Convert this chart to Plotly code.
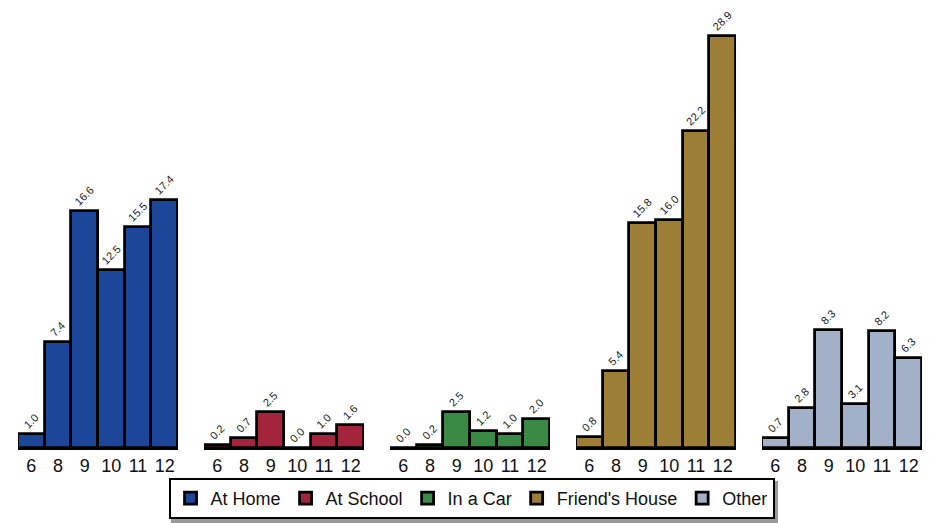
import plotly.graph_objects as go
from plotly.subplots import make_subplots

grades = ["6", "8", "9", "10", "11", "12"]
locations = ["At Home", "At School", "In a Car", "Friend's House", "Other"]
values = {
    "At Home": [1.0, 7.4, 16.6, 12.5, 15.5, 17.4],
    "At School": [0.2, 0.7, 2.5, 0.0, 1.0, 1.6],
    "In a Car": [0.0, 0.2, 2.5, 1.2, 1.0, 2.0],
    "Friend's House": [0.8, 5.4, 15.8, 16.0, 22.2, 28.9],
    "Other": [0.7, 2.8, 8.3, 3.1, 8.2, 6.3],
}
colors = ["#1B4699", "#A4243C", "#3A8A46", "#9C7E36", "#A2B0C8"]

FONT = "Liberation Sans, Arial"
T, B = 12, 75
PH = 515 - T - B  # plot height in px

fig = make_subplots(rows=1, cols=5, shared_yaxes=True, horizontal_spacing=26 / 904)

for i, loc in enumerate(locations):
    fig.add_trace(
        go.Bar(
            x=grades,
            y=values[loc],
            name=loc,
            marker=dict(color=colors[i], line=dict(color="black", width=2.8)),
            texttemplate="%{y:.1f}",
            textposition="outside",
            textangle=-45,
            textfont=dict(size=11, color="#222", family=FONT),
            cliponaxis=False,
        ),
        row=1,
        col=i + 1,
    )
    fig.update_xaxes(
        row=1, col=i + 1,
        type="category",
        range=[-0.5, 5.5],
        showline=True, linecolor="black", linewidth=2,
        showgrid=False, ticks="", zeroline=False,
        tickfont=dict(size=18, color="#111", family=FONT),
    )

fig.update_yaxes(range=[0, 30], visible=False, showgrid=False)

# legend drop shadow
fig.add_shape(
    type="rect", xref="paper", yref="paper",
    x0=(163 - 10) / 904, x1=(770 - 10) / 904,
    y0=-75 / PH, y1=-33 / PH,
    fillcolor="#9a9a9a", line=dict(width=0), layer="above",
)

fig.update_layout(
    width=924, height=515,
    margin=dict(l=10, r=10, t=T, b=B, autoexpand=False),
    bargap=0,
    plot_bgcolor="white", paper_bgcolor="white",
    font=dict(family=FONT, color="#111"),
    legend=dict(
        orientation="h",
        x=0.5017, xanchor="center",
        y=-30 / PH, yanchor="top",
        bordercolor="black", borderwidth=2,
        bgcolor="white",
        font=dict(size=18, family=FONT, color="#111"),
    ),
)

fig.write_html("out.html")
